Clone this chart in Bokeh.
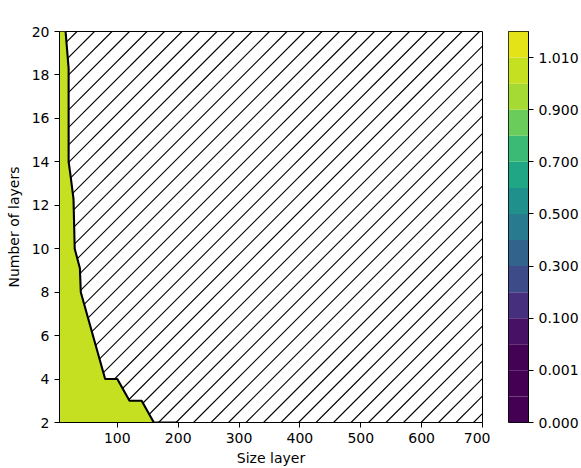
import numpy as np
from bokeh.plotting import figure
from bokeh.layouts import row
from bokeh.models import Range1d, FixedTicker, Label, Slope
from bokeh.palettes import Viridis256
from bokeh.embed import file_html
from bokeh.resources import INLINE

# ---------------- data ----------------
size_range = [5, 700]          # "Size layer" axis extent
layers_range = [2, 20]         # "Number of layers" axis extent
x_ticks = [100, 200, 300, 400, 500, 600, 700]
y_ticks = [2, 4, 6, 8, 10, 12, 14, 16, 18, 20]

# contour of the feasible (filled) region (top -> bottom)
boundary_size = [15, 20, 20, 22.5, 28, 30, 38.5, 40, 80, 100, 120, 140, 160]
boundary_layers = [20, 18.3, 14, 13.5, 12.3, 10, 9.1, 8, 4, 4, 3, 3, 2]
# the contour line continues along the bottom row up to this size
bottom_line_end = 200

# contour levels (colorbar boundaries) and value of the filled layer
levels = [0.0, 0.0001, 0.001, 0.01, 0.1, 0.2, 0.3, 0.4, 0.5, 0.6, 0.7, 0.8,
          0.9, 1.0, 1.01, 1.1]
cbar_tick_index = [0, 2, 4, 6, 8, 10, 12, 14]
filled_layer_index = 13        # layer [1.0, 1.01)


def layer_color(i):
    mid = 0.5 * (levels[i] + levels[i + 1])
    t = (mid - levels[0]) / (levels[-1] - levels[0])
    return Viridis256[min(int(t * 256), 255)]


FONT = "DejaVu Sans"
TXT = "#000000"
FW, FH = 423, 391              # frame size in px

# ---------------- main plot ----------------
p = figure(frame_width=FW, frame_height=FH,
           min_border_left=59, min_border_right=8,
           min_border_top=31, min_border_bottom=46,
           x_range=Range1d(*size_range), y_range=Range1d(*layers_range),
           output_backend="svg", toolbar_location=None)
p.xgrid.visible = False
p.ygrid.visible = False
p.background_fill_color = "white"
p.border_fill_color = "white"
p.outline_line_color = "black"
p.outline_line_width = 1

# 45-degree hatch ("/") behind everything; the filled region covers it
px_per_x = FW / (size_range[1] - size_range[0])
px_per_y = FH / (layers_range[1] - layers_range[0])
grad = px_per_x / px_per_y
hatch_step_px = 17.5
hatch_phase_px = 99.0
k0 = int(np.floor((-FH - hatch_phase_px) / hatch_step_px))
k1 = int(np.ceil((FW - hatch_phase_px) / hatch_step_px))
for k in range(k0, k1 + 1):
    xb = size_range[0] + (hatch_phase_px + k * hatch_step_px) / px_per_x
    p.add_layout(Slope(gradient=grad, y_intercept=layers_range[0] - grad * xb,
                       line_color="black", line_width=1.1, level="underlay"))

# filled region
fx = [size_range[0], size_range[0]] + boundary_size
fy = [layers_range[0], layers_range[1]] + boundary_layers
p.patch(fx, fy, fill_color=layer_color(filled_layer_index), line_color=None)

# contour line
lx = boundary_size + [bottom_line_end]
ly = boundary_layers + [layers_range[0]]
p.line(lx, ly, line_color="black", line_width=2.1)

for ax in (p.xaxis, p.yaxis):
    ax.axis_line_color = "black"
    ax.major_tick_line_color = "black"
    ax.major_tick_out = 5
    ax.major_tick_in = 0
    ax.minor_tick_line_color = None
    ax.major_label_text_font = FONT
    ax.major_label_text_font_size = "14px"
    ax.major_label_text_color = TXT
    ax.axis_label_text_font = FONT
    ax.axis_label_text_font_size = "14px"
    ax.axis_label_text_font_style = "normal"
    ax.axis_label_text_color = TXT
    ax.major_label_standoff = 5
p.xaxis.ticker = FixedTicker(ticks=x_ticks)
p.yaxis.ticker = FixedTicker(ticks=y_ticks)
p.xaxis.axis_label = "Size layer"
p.yaxis.axis_label = "Number of layers"
p.xaxis.axis_label_standoff = 4
p.yaxis.axis_label_standoff = 7

# title L_{lipSDP}
p.add_layout(Label(x=186, y=403, x_units="screen", y_units="screen",
                   text="L", text_font=FONT, text_font_style="italic",
                   text_font_size="17px", text_color=TXT,
                   text_baseline="alphabetic"))
p.add_layout(Label(x=195, y=398, x_units="screen", y_units="screen",
                   text="lipSDP", text_font=FONT, text_font_style="italic",
                   text_font_size="12px", text_color=TXT,
                   text_baseline="alphabetic"))

# ---------------- colorbar ----------------
n_layers = len(levels) - 1
cb = figure(frame_width=20, frame_height=FH,
            min_border_left=18, min_border_right=53,
            min_border_top=31, min_border_bottom=46,
            x_range=Range1d(0, 1), y_range=Range1d(0, n_layers),
            y_axis_location="right",
            output_backend="svg", toolbar_location=None)
cb.xgrid.visible = False
cb.ygrid.visible = False
cb.xaxis.visible = False
cb.border_fill_color = "white"
cb.outline_line_color = "black"
cb.outline_line_width = 1
idx = list(range(n_layers))
cb.quad(left=[0] * n_layers, right=[1] * n_layers,
        bottom=idx, top=[i + 1 for i in idx],
        fill_color=[layer_color(i) for i in idx], line_color=None)
ya = cb.yaxis
ya.ticker = FixedTicker(ticks=cbar_tick_index)
ya.major_label_overrides = {i: f"{levels[i]:.3f}" for i in cbar_tick_index}
ya.axis_line_color = "black"
ya.major_tick_line_color = "black"
ya.major_tick_out = 5
ya.major_tick_in = 0
ya.minor_tick_line_color = None
ya.major_label_text_font = FONT
ya.major_label_text_font_size = "14px"
ya.major_label_text_color = TXT
ya.major_label_standoff = 5

layout = row(p, cb)
open("out.html", "w").write(file_html(layout, INLINE))
